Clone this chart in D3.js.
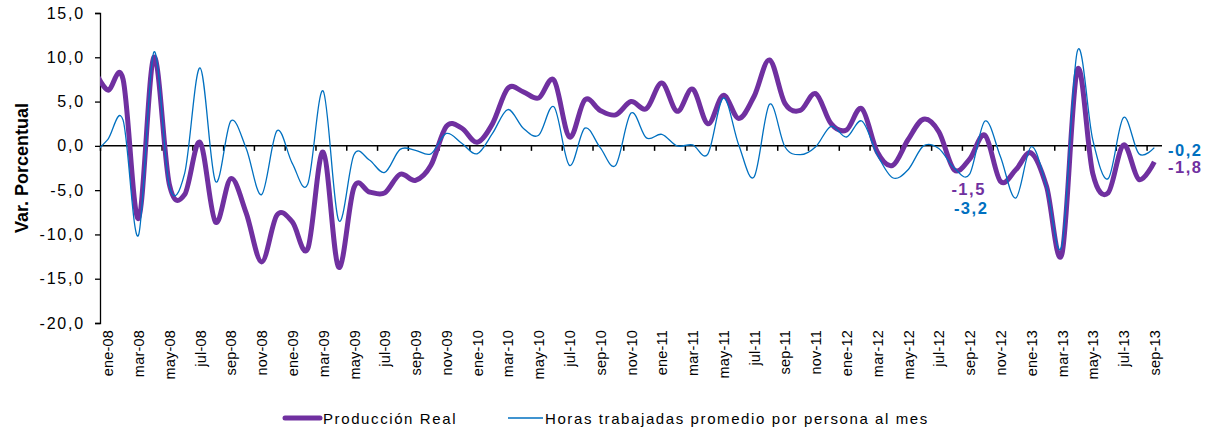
<!DOCTYPE html>
<html>
<head>
<meta charset="utf-8">
<script src="https://cdn.jsdelivr.net/npm/d3@7"></script>
<style>
  body { margin: 0; background: #fff; }
  text { font-family: Arial, "Liberation Sans", sans-serif; }
</style>
</head>
<body>
<div id="chart"></div>
<script>
// Monthly categories, ene-08 .. sep-13
var months = ["ene-08","feb-08","mar-08","abr-08","may-08","jun-08","jul-08","ago-08","sep-08","oct-08","nov-08","dic-08",
  "ene-09","feb-09","mar-09","abr-09","may-09","jun-09","jul-09","ago-09","sep-09","oct-09","nov-09","dic-09",
  "ene-10","feb-10","mar-10","abr-10","may-10","jun-10","jul-10","ago-10","sep-10","oct-10","nov-10","dic-10",
  "ene-11","feb-11","mar-11","abr-11","may-11","jun-11","jul-11","ago-11","sep-11","oct-11","nov-11","dic-11",
  "ene-12","feb-12","mar-12","abr-12","may-12","jun-12","jul-12","ago-12","sep-12","oct-12","nov-12","dic-12",
  "ene-13","feb-13","mar-13","abr-13","may-13","jun-13","jul-13","ago-13","sep-13"];

// Producción Real (var. %)
var produccion = [6.3, 7.5, -8.2, 10.0, -4.3, -5.5, 0.4, -8.6, -3.7, -7.6, -13.1, -7.8,
  -8.6, -11.6, -0.7, -13.7, -4.7, -5.2, -5.3, -3.2, -3.9, -2.2, 2.2, 2.0,
  0.4, 2.5, 6.5, 6.1, 5.4, 7.4, 1.0, 5.2, 4.0, 3.5, 5.0, 4.2,
  7.1, 3.9, 6.4, 2.5, 5.7, 3.1, 5.6, 9.7, 4.8, 4.0, 5.9, 2.5,
  1.8, 4.2, -0.7, -2.2, 0.7, 3.0, 1.6, -2.7, -1.5, 1.2, -4.0, -2.7,
  -0.8, -4.6, -12.2, 8.6, -3.1, -5.3, 0.1, -3.8, -1.8];

// Horas trabajadas promedio por persona al mes (var. %)
var horas = [0.7, 2.9, -10.1, 10.6, -4.5, -3.1, 8.8, -4.0, 2.8, -0.3, -5.5, 1.7,
  -2.0, -4.3, 6.2, -8.4, -1.0, -1.6, -3.0, -0.4, -0.5, -0.9, 1.4, 0.3,
  -0.9, 1.4, 4.1, 2.0, 1.2, 4.4, -2.2, 2.0, -0.2, -2.2, 3.7, 0.9,
  1.3, 0.0, 0.1, -0.9, 5.4, 0.1, -3.5, 4.7, -0.1, -1.0, -0.1, 2.2,
  1.0, 2.8, -1.0, -3.6, -2.7, 0.0, -0.3, -2.5, -3.2, 2.8, -1.2, -5.9,
  -0.1, -4.6, -11.2, 10.7, 0.7, -3.7, 3.2, -0.9, -0.2];

// value of dic-07 (before the first category, clipped by the plot area)
var prevProduccion = 9.0;
var prevHoras = -1.0;

var yTicks = [-20, -15, -10, -5, 0, 5, 10, 15];

var svgWidth = 1213;
var svgHeight = 435;
var margin = { top: 13, left: 100, right: 51, bottom: 112 };
var chartWidth = svgWidth - margin.left - margin.right;
var chartHeight = svgHeight - margin.top - margin.bottom;

var purple = "#7030A0";
var blue = "#0070C0";

var svg = d3.select("#chart").append("svg")
  .attr("width", svgWidth)
  .attr("height", svgHeight);

var chartGroup = svg.append("g")
  .attr("transform", `translate(${margin.left}, ${margin.top})`);

var xScale = d3.scaleLinear()
  .domain([-0.5, months.length - 0.5])
  .range([0, chartWidth]);

var yScale = d3.scaleLinear()
  .domain([-20, 15])
  .range([chartHeight, 0]);

svg.append("defs").append("clipPath").attr("id", "plotclip")
  .append("rect")
  .attr("x", 0).attr("y", -10)
  .attr("width", chartWidth).attr("height", chartHeight + 20);

var fmt = function(v) { return d3.format(".1f")(v).replace(".", ",").replace("−", "-"); };

// y axis
var leftAxis = d3.axisLeft(yScale).tickValues(yTicks).tickSize(5).tickPadding(10).tickFormat(fmt);
var yAxisG = chartGroup.append("g").call(leftAxis);
yAxisG.select(".domain").attr("stroke", "#000").attr("stroke-width", 1.3).attr("d", `M-5,0.5H0.5V${chartHeight + 0.5}H-5`);
yAxisG.selectAll(".tick line").attr("stroke", "#000").attr("stroke-width", 1.3);
yAxisG.selectAll(".tick text")
  .attr("font-size", 16)
  .attr("letter-spacing", 1.8)
  .attr("fill", "#000");

// zero axis with tick marks every 2 months
var zeroAxis = d3.axisBottom(xScale)
  .tickValues(d3.range(-0.5, months.length - 1, 2))
  .tickSize(5)
  .tickFormat("");
var zeroG = chartGroup.append("g")
  .attr("transform", `translate(0, ${yScale(0)})`)
  .call(zeroAxis);
zeroG.select(".domain").attr("stroke", "#000").attr("stroke-width", 1.5).attr("d", `M0,0H${chartWidth}`);
zeroG.selectAll(".tick line").attr("stroke", "#000").attr("stroke-width", 1.5);

// category labels below plot
var labelAxis = d3.axisBottom(xScale)
  .tickValues(d3.range(0, months.length, 2))
  .tickSize(0)
  .tickFormat(function(i) { return months[i]; });
var labelG = chartGroup.append("g")
  .attr("transform", `translate(0, ${chartHeight})`)
  .call(labelAxis);
labelG.select(".domain").remove();
labelG.selectAll(".tick text")
  .attr("font-size", 14.5)
  .attr("letter-spacing", 0.2)
  .attr("fill", "#000")
  .attr("text-anchor", "end")
  .attr("transform", "rotate(-90)")
  .attr("x", -7)
  .attr("y", 0)
  .attr("dy", "0.35em");

// lines
var lineGen = d3.line()
  .x(function(d) { return xScale(d.i); })
  .y(function(d) { return yScale(d.v); })
  .curve(d3.curveCardinal.tension(0));

function series(prev, vals) {
  var pts = [{ i: -1, v: prev }];
  vals.forEach(function(v, i) { pts.push({ i: i, v: v }); });
  return pts;
}

var lines = chartGroup.append("g").attr("clip-path", "url(#plotclip)");

lines.append("path")
  .attr("d", lineGen(series(prevProduccion, produccion)))
  .attr("fill", "none")
  .attr("stroke", purple)
  .attr("stroke-width", 5)
  .attr("stroke-linejoin", "round");

lines.append("path")
  .attr("d", lineGen(series(prevHoras, horas)))
  .attr("fill", "none")
  .attr("stroke", blue)
  .attr("stroke-width", 1.3);

// data labels
var labels = [
  { i: 56, v: produccion[56], color: purple, dx: -1, dy: 36 },
  { i: 56, v: horas[56], color: blue, dx: 1.5, dy: 40 },
  { i: 68, v: horas[68], color: blue, dx: 13.7, dy: 8 },
  { i: 68, v: produccion[68], color: purple, dx: 13.7, dy: 11 }
];
chartGroup.selectAll(".dlabel")
  .data(labels)
  .enter().append("text")
  .attr("class", "dlabel")
  .attr("x", function(d) { return xScale(d.i) + d.dx; })
  .attr("y", function(d) { return yScale(d.v) + d.dy; })
  .attr("fill", function(d) { return d.color; })
  .attr("font-size", 16.5)
  .attr("letter-spacing", 1.5)
  .attr("font-weight", "bold")
  .attr("text-anchor", function(d) { return d.i === 68 ? "start" : "middle"; })
  .text(function(d) { return fmt(d.v); });

// y axis title
svg.append("text")
  .attr("transform", `translate(28, ${margin.top + chartHeight / 2}) rotate(-90)`)
  .attr("text-anchor", "middle")
  .attr("font-size", 18)
  .attr("font-weight", "bold")
  .text("Var. Porcentual");

// legend
var legend = svg.append("g").attr("transform", "translate(0, 418)");
legend.append("line")
  .attr("x1", 285).attr("x2", 320).attr("y1", 0).attr("y2", 0)
  .attr("stroke", purple).attr("stroke-width", 5).attr("stroke-linecap", "round");
legend.append("text")
  .attr("x", 323).attr("y", 5.5)
  .attr("font-size", 15).attr("letter-spacing", 1.6)
  .text("Producción Real");
legend.append("line")
  .attr("x1", 508).attr("x2", 543).attr("y1", 0).attr("y2", 0)
  .attr("stroke", blue).attr("stroke-width", 1.3);
legend.append("text")
  .attr("x", 545).attr("y", 5.5)
  .attr("font-size", 15).attr("letter-spacing", 1.6)
  .text("Horas trabajadas promedio por persona al mes");
</script>
</body>
</html>
